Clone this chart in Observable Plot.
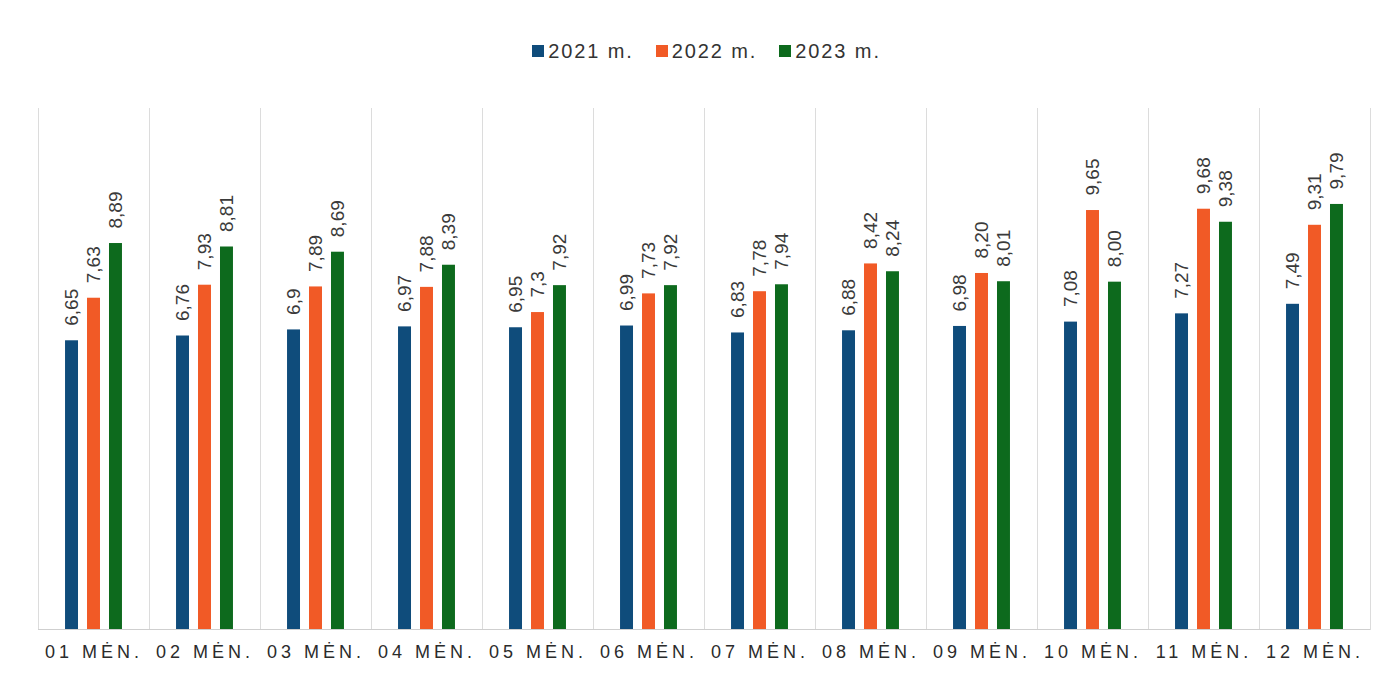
<!DOCTYPE html>
<html>
<head>
<meta charset="utf-8">
<script src="https://cdn.jsdelivr.net/npm/d3@7"></script>
<script src="https://cdn.jsdelivr.net/npm/@observablehq/plot@0.6"></script>
<style>
  html, body { margin: 0; padding: 0; background: #ffffff; }
  #wrap { position: relative; width: 1385px; height: 677px; overflow: hidden; }
  #legend { position: absolute; top: 40px; left: 0; width: 1385px; height: 22px;
    display: flex; justify-content: center; align-items: center;
    font-family: "Liberation Sans", Arial, sans-serif; font-size: 20px; letter-spacing: 1.9px; color: #333;
    padding-left: 28px; box-sizing: border-box; }
  #legend .item { display: flex; align-items: center; margin: 0 11px; }
  #legend .sw { width: 12px; height: 12px; margin-right: 4px; }
  #chart { position: absolute; top: 80px; left: 0; }
  #chart g[aria-label="fx-axis tick label"] text { letter-spacing: 4px; }
</style>
</head>
<body>
<div id="wrap">
  <div id="legend"></div>
  <div id="chart"></div>
</div>
<script>
const months = ["01 MĖN.", "02 MĖN.", "03 MĖN.", "04 MĖN.", "05 MĖN.", "06 MĖN.",
                "07 MĖN.", "08 MĖN.", "09 MĖN.", "10 MĖN.", "11 MĖN.", "12 MĖN."];
const years = ["2021 m.", "2022 m.", "2023 m."];
const colors = ["#0f4c7b", "#f15a26", "#0d6a1d"];

const values2021 = [6.65, 6.76, 6.9, 6.97, 6.95, 6.99, 6.83, 6.88, 6.98, 7.08, 7.27, 7.49];
const values2022 = [7.63, 7.93, 7.89, 7.88, 7.3, 7.73, 7.78, 8.42, 8.20, 9.65, 9.68, 9.31];
const values2023 = [8.89, 8.81, 8.69, 8.39, 7.92, 7.92, 7.94, 8.24, 8.01, 8.00, 9.38, 9.79];

const labels2021 = ["6,65", "6,76", "6,9", "6,97", "6,95", "6,99", "6,83", "6,88", "6,98", "7,08", "7,27", "7,49"];
const labels2022 = ["7,63", "7,93", "7,89", "7,88", "7,3", "7,73", "7,78", "8,42", "8,20", "9,65", "9,68", "9,31"];
const labels2023 = ["8,89", "8,81", "8,69", "8,39", "7,92", "7,92", "7,94", "8,24", "8,01", "8,00", "9,38", "9,79"];

const seriesValues = [values2021, values2022, values2023];
const seriesLabels = [labels2021, labels2022, labels2023];

const data = [];
months.forEach((m, j) => {
  years.forEach((y, i) => {
    data.push({month: m, year: y, value: seriesValues[i][j], label: seriesLabels[i][j]});
  });
});

// legend
const legend = document.getElementById("legend");
years.forEach((y, i) => {
  const item = document.createElement("div");
  item.className = "item";
  const sw = document.createElement("span");
  sw.className = "sw";
  sw.style.background = colors[i];
  const t = document.createElement("span");
  t.textContent = y;
  item.appendChild(sw);
  item.appendChild(t);
  legend.appendChild(item);
});

const chart = Plot.plot({
  width: 1385,
  height: 597,
  marginLeft: 38,
  marginRight: 15,
  marginTop: 28,
  marginBottom: 48,
  style: {fontFamily: "'Liberation Sans', Arial, sans-serif", fontSize: "18px", color: "#2b2b2b", background: "transparent"},
  fx: {domain: months, padding: 0, round: false, axis: "bottom", tickSize: 0, tickPadding: 16, label: null},
  x: {domain: years, paddingInner: 0.41, paddingOuter: 1.23, round: false, axis: null},
  y: {domain: [0, 12], axis: null},
  color: {domain: years, range: colors},
  marks: [
    Plot.frame({anchor: "left", stroke: "#dcdcdc"}),
    Plot.frame({anchor: "right", stroke: "#dcdcdc"}),
    Plot.ruleY([0], {stroke: "#cfcfcf"}),
    Plot.barY(data, {fx: "month", x: "year", y: "value", fill: "year"}),
    Plot.text(data, {fx: "month", x: "year", y: "value", text: "label", rotate: -90,
      textAnchor: "start", dy: -15, fontSize: 19, fill: "#3a3a3a"})
  ]
});
document.getElementById("chart").appendChild(chart);
</script>
</body>
</html>
